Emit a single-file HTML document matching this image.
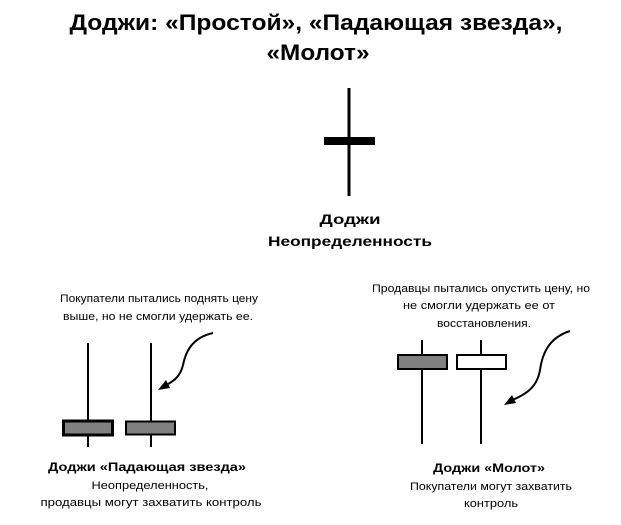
<!DOCTYPE html>
<html><head><meta charset="utf-8"><style>
body{margin:0;width:621px;height:520px;background:#fff;overflow:hidden;font-family:"Liberation Sans","DejaVu Sans",sans-serif;}
</style></head><body>
<svg width="621" height="520" xmlns="http://www.w3.org/2000/svg" font-family="Liberation Sans, DejaVu Sans, sans-serif">
<g text-anchor="middle" fill="#000">
<text x="316" y="30" font-size="22" font-weight="bold" textLength="493" lengthAdjust="spacingAndGlyphs">Доджи: «Простой», «Падающая звезда»,</text>
<text x="318" y="60" font-size="22" font-weight="bold" textLength="103" lengthAdjust="spacingAndGlyphs">«Молот»</text>
<text x="350" y="224" font-size="14" font-weight="bold" textLength="61" lengthAdjust="spacingAndGlyphs">Доджи</text>
<text x="350" y="246" font-size="14" font-weight="bold" textLength="164" lengthAdjust="spacingAndGlyphs">Неопределенность</text>
<text x="159" y="302" font-size="11" textLength="198" lengthAdjust="spacingAndGlyphs">Покупатели пытались поднять цену</text>
<text x="158" y="320" font-size="11" textLength="190" lengthAdjust="spacingAndGlyphs">выше, но не смогли удержать ее.</text>
<text x="147" y="471" font-size="12" font-weight="bold" textLength="198" lengthAdjust="spacingAndGlyphs">Доджи «Падающая звезда»</text>
<text x="150" y="489" font-size="11" textLength="117" lengthAdjust="spacingAndGlyphs">Неопределенность,</text>
<text x="151" y="506" font-size="11" textLength="221" lengthAdjust="spacingAndGlyphs">продавцы могут захватить контроль</text>
<text x="481" y="292" font-size="11" textLength="218" lengthAdjust="spacingAndGlyphs">Продавцы пытались опустить цену, но</text>
<text x="479" y="309" font-size="11" textLength="152" lengthAdjust="spacingAndGlyphs">не смогли удержать ее от</text>
<text x="484" y="327" font-size="11" textLength="94" lengthAdjust="spacingAndGlyphs">восстановления.</text>
<text x="489" y="472" font-size="12" font-weight="bold" textLength="112" lengthAdjust="spacingAndGlyphs">Доджи «Молот»</text>
<text x="491" y="490" font-size="11" textLength="162" lengthAdjust="spacingAndGlyphs">Покупатели могут захватить</text>
<text x="491" y="507" font-size="11" textLength="54" lengthAdjust="spacingAndGlyphs">контроль</text>
</g>
<line x1="349" y1="88" x2="349" y2="196" stroke="#000" stroke-width="3"/>
<rect x="324" y="137" width="51" height="8" fill="#000"/>
<line x1="88" y1="343" x2="88" y2="447" stroke="#000" stroke-width="2"/>
<rect x="63.5" y="421" width="49" height="14" fill="#808080" stroke="#000" stroke-width="3"/>
<line x1="151" y1="343" x2="151" y2="447" stroke="#000" stroke-width="2"/>
<rect x="126" y="421.5" width="49" height="13" fill="#808080" stroke="#000" stroke-width="2"/>
<path d="M213 333 C190 338 185 355 183 365 C180 378 172 382 163 387" fill="none" stroke="#000" stroke-width="2"/>
<path d="M158 390 L166 380 L170 388 Z" fill="#000"/>
<line x1="422" y1="340" x2="422" y2="444" stroke="#000" stroke-width="2"/>
<rect x="398" y="355" width="49" height="14" fill="#808080" stroke="#000" stroke-width="2"/>
<line x1="481" y1="340" x2="481" y2="444" stroke="#000" stroke-width="2"/>
<rect x="457" y="355" width="49" height="14" fill="#fff" stroke="#000" stroke-width="2"/>
<path d="M570 331 C548 338 542 355 540 370 C537 388 525 395 510 401" fill="none" stroke="#000" stroke-width="2"/>
<path d="M504 405 L512 395 L516 403 Z" fill="#000"/>
</svg>
</body></html>
